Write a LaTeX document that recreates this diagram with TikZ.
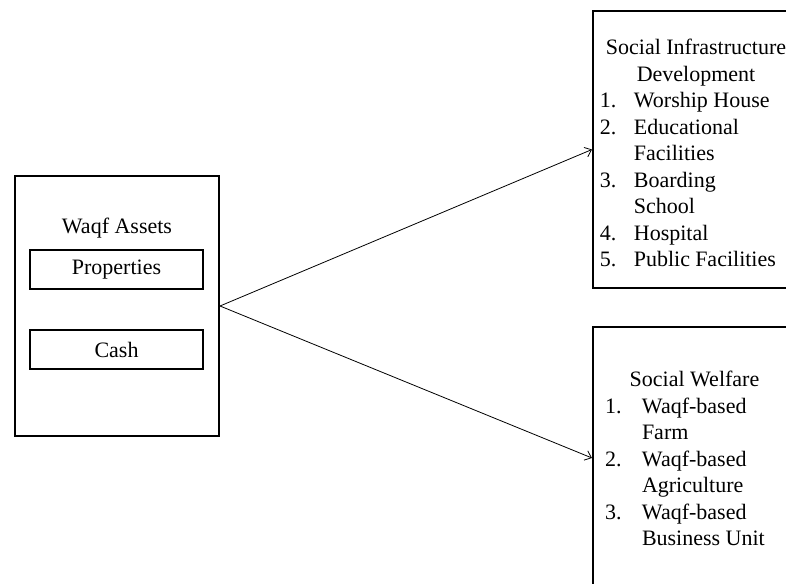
\documentclass[tikz,border=0pt]{standalone}
\usepackage{fontspec}
\setmainfont{Liberation Serif}
\usepackage{array}
\usetikzlibrary{arrows.meta,positioning}

\begin{document}
\begin{tikzpicture}[x=1pt,y=-1pt,>={Straight Barb[length=6pt,width=10pt]},
    node font=\fontsize{22}{26.5}\selectfont,
    outerbox/.style={draw,line width=2pt,inner sep=0pt},
    itembox/.style={draw,line width=2pt,minimum width=173pt,minimum height=39pt,inner sep=0pt},
    itemlist/.style={inner sep=0pt,align=left}]
    \path[use as bounding box,clip] (0,0) rectangle (786,583);
    %
    % waqf assets
    \node[outerbox,minimum width=204pt,minimum height=260pt] (assets) at (117,306) {};
    \node[inner sep=0pt] (assetstitle) at (117,228.5) {Waqf Assets};
    \node[itembox] (properties) at (116.5,269.5) {Properties};
    \node[itembox] (cash) at (116.5,349.5) {Cash};
    %
    % social infrastructure (runs past the right edge)
    \node[outerbox,minimum width=300pt,minimum height=277pt] (infra) at (743,149.5) {};
    \node[itemlist] (infralist) at (696,155.5) {%
      \begin{tabular}{@{}p{34pt}@{}p{142pt}@{}}
        \multicolumn{2}{c}{Social Infrastructure}\\
        \multicolumn{2}{c}{Development}\\
        1. & Worship House\\
        2. & Educational\\
           & Facilities\\
        3. & Boarding\\
           & School\\
        4. & Hospital\\
        5. & Public Facilities
      \end{tabular}};
    %
    % social welfare (runs past the right and bottom edges)
    \node[outerbox,minimum width=300pt,minimum height=262pt] (welfare) at (743,458) {};
    \node[itemlist] (welfarelist) at (694.5,461) {%
      \begin{tabular}{@{}p{37pt}@{}p{142pt}@{}}
        \multicolumn{2}{c}{Social Welfare}\\
        1. & Waqf-based\\
           & Farm\\
        2. & Waqf-based\\
           & Agriculture\\
        3. & Waqf-based\\
           & Business Unit
      \end{tabular}};
    %
    \draw[->,line width=0.8pt] (assets.east) -- (infra.west);
    \draw[->,line width=0.8pt] (assets.east) -- (welfare.west);
  \end{tikzpicture}
\end{document}
